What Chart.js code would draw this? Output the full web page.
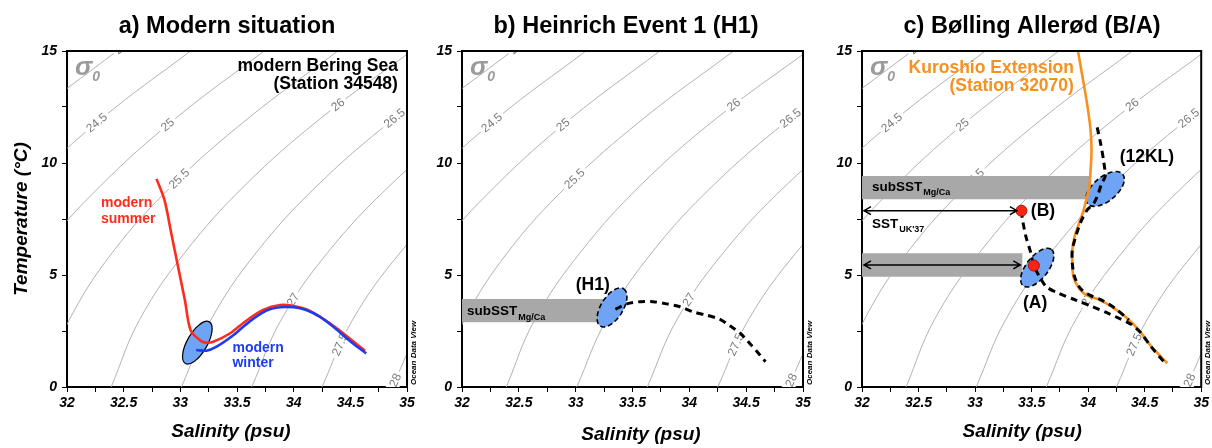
<!DOCTYPE html>
<html>
<head>
<meta charset="utf-8">
<script src="https://cdn.jsdelivr.net/npm/chart.js@4.4.1/dist/chart.umd.min.js"></script>
<style>
  html, body { margin: 0; padding: 0; background: #fff; }
  #wrap { position: relative; width: 1212px; height: 448px; overflow: hidden; }
  canvas { position: absolute; top: 0; }
</style>
</head>
<body>
<div id="wrap">
  <canvas id="panelA" width="420" height="448" style="left:0px"></canvas>
  <canvas id="panelB" width="420" height="448" style="left:400px"></canvas>
  <canvas id="panelC" width="412" height="448" style="left:800px"></canvas>
</div>
<script>
const FONT = '"Liberation Sans", Arial, Helvetica, sans-serif';
Chart.defaults.font.family = FONT;

// axes
const salinityTicks = [32, 32.25, 32.5, 32.75, 33, 33.25, 33.5, 33.75, 34, 34.25, 34.5, 34.75, 35];
const salinityLabels = [32, 32.5, 33, 33.5, 34, 34.5, 35];
const temperatureTicks = [0, 2.5, 5, 7.5, 10, 12.5, 15];
const temperatureLabels = [0, 5, 10, 15];

// sigma-0 isopycnals: salinity of each level at the listed temperatures
const isoTemps = [0, 3, 6, 9, 12, 15];
const isoLevels = ['24', '24.5', '25', '25.5', '26', '26.5', '27', '27.5', '28'];
const isoSalinity = [
  [null, null, null, 31.02, 31.67, 32.44],
  [null, null, 31.14, 31.66, 32.31, 33.09],
  [null, 31.39, 31.77, 32.30, 32.96, 33.74],
  [31.77, 32.02, 32.40, 32.93, 33.60, 34.39],
  [32.39, 32.64, 33.04, 33.57, 34.24, 35.04],
  [33.01, 33.27, 33.67, 34.21, 34.89, 35.68],
  [33.63, 33.89, 34.30, 34.85, 35.53, null],
  [34.25, 34.52, 34.94, 35.49, null, null],
  [34.87, 35.15, 35.57, null, null, null]
];
const isoLabelTemps = [15.15, 11.8, 11.7, 9.3, 12.6, 12.0, 3.9, 1.9, 0.3];

// a) modern Bering Sea, station 34548
const summerSal = [32.79, 32.86, 32.92, 32.98, 33.04, 33.09, 33.17, 33.22, 33.29, 33.44, 33.59, 33.73, 33.88, 34.00, 34.11, 34.23, 34.38, 34.53, 34.63];
const summerTemp = [9.29, 8.35, 6.86, 5.37, 3.88, 2.54, 2.10, 1.98, 2.02, 2.40, 2.99, 3.44, 3.66, 3.62, 3.47, 3.14, 2.62, 2.02, 1.62];
const winterSal = [33.14, 33.23, 33.32, 33.47, 33.61, 33.76, 33.88, 34.00, 34.11, 34.23, 34.35, 34.47, 34.56, 34.64];
const winterTemp = [1.65, 1.62, 1.80, 2.32, 2.92, 3.41, 3.56, 3.56, 3.44, 3.14, 2.69, 2.17, 1.80, 1.50];
const modernCore = [33.15, 1.98];

// b) Heinrich Event 1
const h1Sal = [33.35, 33.45, 33.57, 33.68, 33.80, 33.92, 34.03, 34.15, 34.27, 34.36, 34.45, 34.53, 34.61, 34.67];
const h1Temp = [3.47, 3.71, 3.81, 3.81, 3.71, 3.58, 3.36, 3.21, 3.02, 2.72, 2.39, 1.95, 1.50, 1.13];
const h1Core = [33.32, 3.55];
const h1SubSST = [2.89, 3.93];
const h1SubSSTEnd = 33.26;

// c) Bolling Allerod, Kuroshio Extension station 32070
const kuroSal = [33.91, 33.95, 33.99, 34.02, 34.03, 34.02, 34.01, 33.99, 33.96, 33.92, 33.88, 33.86, 33.86, 33.87, 33.92, 33.98, 34.09, 34.21, 34.33, 34.45, 34.56, 34.70];
const kuroTemp = [15.0, 13.85, 12.66, 11.55, 10.58, 9.54, 8.87, 8.50, 7.90, 7.31, 6.71, 6.12, 5.52, 4.92, 4.41, 4.11, 3.91, 3.58, 3.14, 2.54, 1.80, 1.06];
const baSal = [33.41, 33.42, 33.45, 33.49, 33.51, 33.52, 33.57, 33.63, 33.74, 33.89, 34.04, 34.16, 34.28, 34.38, 34.46, 34.56, 34.67];
const baTemp = [7.87, 7.46, 6.71, 6.04, 5.59, 5.42, 4.92, 4.48, 4.18, 3.88, 3.58, 3.33, 3.05, 2.80, 2.45, 1.78, 1.13];
const kl12Sal = [34.08, 34.11, 34.14, 34.15, 34.12, 34.09, 34.05, 33.99, 33.93, 33.89, 33.86, 33.86, 33.88, 33.93, 34.01, 34.12, 34.24, 34.36];
const kl12Temp = [11.59, 10.88, 9.99, 9.39, 9.10, 8.64, 8.20, 7.90, 7.31, 6.71, 6.12, 5.52, 4.92, 4.41, 4.11, 3.88, 3.51, 2.99];
const ukSal = [33.41, 33.52];
const ukTemp = [7.87, 5.42];
const baCoreA = [33.55, 5.33];
const baCore12KL = [34.15, 8.84];
const baSubSSTUpper = [8.38, 9.42];
const baSubSSTUpperEnd = 34.01;
const baSubSSTLower = [4.92, 5.97];
const baSubSSTLowerEnd = 33.42;
const baArrowTemp = [7.87, 5.45];
const baArrowEnd = [33.37, 33.40];

const RED = '#ff2b1c', BLUE = '#1c3cf2', ORANGE = '#f7901e';
const CORE = '#6fa3f4', BAND = '#a8a8a8', ISO = '#a9a9a9';

const pts = (xs, ys) => xs.map((s, i) => ({ x: s, y: ys[i] }));

function series(label, xs, ys, style) {
  return Object.assign({ label, data: pts(xs, ys), order: 10, tension: 0.3, fill: false, pointRadius: 0 }, style);
}

const dashed = { borderColor: '#000', borderWidth: 3, borderDash: [7, 5] };

function band(label, range, sEnd, after) {
  return [
    { label, data: [{ x: 32, y: range[1] }, { x: sEnd, y: range[1] }], borderWidth: 0, borderColor: 'rgba(0,0,0,0)',
      backgroundColor: BAND, fill: '+1', order: 20, tension: 0, pointRadius: 0, after },
    { label: label + ' (lower)', data: [{ x: 32, y: range[0] }, { x: sEnd, y: range[0] }], borderWidth: 0,
      borderColor: 'rgba(0,0,0,0)', fill: false, order: 20, tension: 0, pointRadius: 0 }
  ];
}

function isopycnals(after) {
  return isoLevels.map((lvl, i) => ({
    label: 'sigma0 ' + lvl,
    data: isoTemps.map((t, j) => (isoSalinity[i][j] == null ? null : { x: isoSalinity[i][j], y: t })).filter(Boolean),
    borderColor: ISO, borderWidth: 0.9, tension: 0.4, fill: false, order: 30, pointRadius: 0,
    isoIndex: i, after: i === 0 ? after : undefined
  }));
}

function bez(p0, c1, c2, p3, u) { const v = 1 - u; return v * v * v * p0 + 3 * v * v * u * c1 + 3 * v * u * u * c2 + u * u * u * p3; }
function dbez(p0, c1, c2, p3, u) { const v = 1 - u; return 3 * v * v * (c1 - p0) + 6 * v * u * (c2 - c1) + 3 * u * u * (p3 - c2); }

// contour labels sit on the drawn curve, with a white gap behind them
function drawIsoLabels(chart) {
  const { ctx, chartArea: a, scales: { y } } = chart;
  ctx.save();
  ctx.beginPath();
  ctx.rect(a.left, a.top, a.right - a.left, a.bottom - a.top);
  ctx.clip();
  ctx.font = '12px ' + FONT;
  ctx.textAlign = 'center';
  ctx.textBaseline = 'middle';
  chart.data.datasets.forEach((ds, di) => {
    if (ds.isoIndex === undefined) return;
    const el = chart.getDatasetMeta(di).data;
    const ty = y.getPixelForValue(isoLabelTemps[ds.isoIndex]);
    let k = 0;
    while (k < el.length - 2 && el[k + 1].y > ty) k++;
    const A = el[k], B = el[k + 1];
    let px, py, ang;
    if (ty < B.y || A.cp2x === undefined) {
      const f = (ty - A.y) / (B.y - A.y);
      px = A.x + (B.x - A.x) * f; py = ty;
      ang = Math.atan2(B.y - A.y, B.x - A.x);
    } else {
      let lo = 0, hi = 1;
      for (let n = 0; n < 30; n++) {
        const m = (lo + hi) / 2;
        if (bez(A.y, A.cp2y, B.cp1y, B.y, m) > ty) lo = m; else hi = m;
      }
      const u = (lo + hi) / 2;
      px = bez(A.x, A.cp2x, B.cp1x, B.x, u);
      py = bez(A.y, A.cp2y, B.cp1y, B.y, u);
      ang = Math.atan2(dbez(A.y, A.cp2y, B.cp1y, B.y, u), dbez(A.x, A.cp2x, B.cp1x, B.x, u));
    }
    const txt = isoLevels[ds.isoIndex];
    ctx.save();
    ctx.translate(px, py);
    ctx.rotate(ang);
    const w = ctx.measureText(txt).width + 6;
    ctx.fillStyle = '#fff';
    ctx.fillRect(-w / 2, -6.5, w, 13);
    ctx.fillStyle = '#7d7d7d';
    ctx.fillText(txt, 0, 0.5);
    ctx.restore();
  });
  ctx.restore();
}

function drawCores(chart, cores) {
  const { ctx, scales: { x, y } } = chart;
  cores.forEach(c => {
    const cx = x.getPixelForValue(c.at[0]), cy = y.getPixelForValue(c.at[1]);
    ctx.save();
    ctx.beginPath();
    ctx.ellipse(cx, cy, c.rx, c.ry, -c.tilt * Math.PI / 180, 0, Math.PI * 2);
    ctx.fillStyle = CORE;
    ctx.fill();
    ctx.strokeStyle = '#000';
    ctx.lineWidth = c.dashed ? 1.6 : 1.2;
    ctx.setLineDash(c.dashed ? [5, 3] : []);
    ctx.stroke();
    ctx.restore();
  });
}

function makeDecor(p) {
  return {
    id: 'tsDecor',
    afterDatasetDraw(chart, args) {
      const tag = chart.data.datasets[args.index].after || '';
      if (tag.includes('labels')) drawIsoLabels(chart);
      if (tag.includes('cores')) drawCores(chart, p.cores);
    },
    afterDraw(chart) {
      const { ctx, chartArea: a, scales: { x, y } } = chart;
      ctx.save();

      // close the frame on top and right
      ctx.strokeStyle = '#000';
      ctx.lineWidth = 2;
      ctx.beginPath();
      ctx.moveTo(a.left - 1, a.top);
      ctx.lineTo(a.right, a.top);
      ctx.lineTo(a.right, a.bottom + 1);
      ctx.stroke();

      // double arrows
      ctx.lineWidth = 1.5;
      (p.arrows || []).forEach(ar => {
        const yy = y.getPixelForValue(ar.t);
        const x0 = x.getPixelForValue(ar.from) + 2, x1 = x.getPixelForValue(ar.to);
        ctx.beginPath();
        ctx.moveTo(x0, yy); ctx.lineTo(x1, yy);
        ctx.moveTo(x0 + 7, yy - 4); ctx.lineTo(x0, yy); ctx.lineTo(x0 + 7, yy + 4);
        ctx.moveTo(x1 - 7, yy - 4); ctx.lineTo(x1, yy); ctx.lineTo(x1 - 7, yy + 4);
        ctx.stroke();
      });

      // sigma-0 tag
      ctx.fillStyle = '#9b9b9b';
      ctx.textAlign = 'left';
      ctx.textBaseline = 'alphabetic';
      ctx.font = 'italic bold 26px ' + FONT;
      ctx.fillText('σ', a.left + 8, a.top + 24);
      const sw = ctx.measureText('σ').width;
      ctx.font = 'italic bold 14px ' + FONT;
      ctx.fillText('0', a.left + 8 + sw, a.top + 30);

      // annotations
      p.notes.forEach(n => {
        const px = x.getPixelForValue(n.at[0]), py = y.getPixelForValue(n.at[1]);
        ctx.font = 'bold ' + n.size + 'px ' + FONT;
        ctx.fillStyle = n.color || '#000';
        ctx.textAlign = n.align || 'left';
        ctx.textBaseline = 'middle';
        ctx.fillText(n.text, px, py);
        if (n.sub) {
          const w = ctx.measureText(n.text).width;
          ctx.font = 'bold 9px ' + FONT;
          ctx.textAlign = 'left';
          ctx.fillText(n.sub, px + w + 1, py + 6);
        }
      });

      // software credit along the right edge
      ctx.save();
      ctx.translate(a.right + 7, a.bottom - 2);
      ctx.rotate(-Math.PI / 2);
      ctx.font = 'italic bold 8px ' + FONT;
      ctx.fillStyle = '#000';
      ctx.textAlign = 'left';
      ctx.textBaseline = 'middle';
      ctx.fillText('Ocean Data View', 0, 0);
      ctx.restore();

      // panel title and salinity axis title
      const mid = (a.left + a.right) / 2;
      ctx.fillStyle = '#000';
      ctx.textAlign = 'center';
      ctx.textBaseline = 'alphabetic';
      ctx.font = 'bold 23.5px ' + FONT;
      ctx.fillText(p.title, mid + p.titleDx, 33);
      ctx.font = 'italic bold 19px ' + FONT;
      ctx.fillText('Salinity (psu)', mid + p.xTitleDx, p.xTitleBase);
      ctx.restore();
    }
  };
}

const tickFont = { size: 14, weight: 'bold', style: 'italic' };

function panelChart(id, yWidth, padRight, datasets, decor, yTitle) {
  return new Chart(document.getElementById(id), {
    type: 'line',
    data: { datasets },
    options: {
      responsive: false,
      animation: false,
      events: [],
      layout: { padding: { top: 51, right: padRight, bottom: 0, left: 0 } },
      elements: { point: { radius: 0 }, line: { capBezierPoints: false } },
      plugins: { legend: { display: false }, tooltip: { enabled: false } },
      scales: {
        x: {
          type: 'linear', min: 32, max: 35,
          afterBuildTicks: s => { s.ticks = salinityTicks.map(v => ({ value: v })); },
          afterFit: s => { s.height = 61; },
          ticks: {
            autoSkip: false, maxRotation: 0, padding: 3, color: '#000', font: tickFont,
            callback: v => (salinityLabels.includes(v) ? String(v) : '')
          },
          grid: { drawOnChartArea: false, tickLength: 5, color: '#000' },
          border: { color: '#000', width: 2 }
        },
        y: {
          type: 'linear', min: 0, max: 15,
          afterBuildTicks: s => { s.ticks = temperatureTicks.map(v => ({ value: v })); },
          afterFit: s => { s.width = yWidth; },
          ticks: {
            autoSkip: false, padding: 5, color: '#000', font: tickFont,
            callback: v => (temperatureLabels.includes(v) ? String(v) : '')
          },
          grid: { drawOnChartArea: false, tickLength: 5, color: '#000' },
          border: { color: '#000', width: 2 },
          title: {
            display: !!yTitle, text: yTitle || '', color: '#000',
            font: { size: 19, weight: 'bold', style: 'italic' },
            padding: { top: 10, bottom: 0 }
          }
        }
      }
    },
    plugins: [decor]
  });
}

// a) Modern situation
panelChart('panelA', 67, 13, [
  series('modern winter', winterSal, winterTemp, { borderColor: BLUE, borderWidth: 2.6 }),
  series('modern summer', summerSal, summerTemp, { borderColor: RED, borderWidth: 2.6 }),
  ...isopycnals('labels cores')
], makeDecor({
  title: 'a) Modern situation', titleDx: -10, xTitleDx: -6, xTitleBase: 437,
  cores: [{ at: modernCore, rx: 24, ry: 10, tilt: 60, dashed: false }],
  notes: [
    { text: 'modern Bering Sea', at: [34.92, 14.33], align: 'right', size: 17.5 },
    { text: '(Station 34548)', at: [34.92, 13.51], align: 'right', size: 17.5 },
    { text: 'modern', at: [32.30, 8.20], size: 14, color: RED },
    { text: 'summer', at: [32.30, 7.50], size: 14, color: RED },
    { text: 'modern', at: [33.46, 1.73], size: 14, color: BLUE },
    { text: 'winter', at: [33.46, 1.08], size: 14, color: BLUE }
  ]
}), 'Temperature (°C)');

// b) Heinrich Event 1 (H1)
panelChart('panelB', 62, 17, [
  series('H1', h1Sal, h1Temp, dashed),
  ...band('subSST Mg/Ca', h1SubSST, h1SubSSTEnd, 'cores'),
  ...isopycnals('labels')
], makeDecor({
  title: 'b) Heinrich Event 1 (H1)', titleDx: -6.5, xTitleDx: 8.5, xTitleBase: 440,
  cores: [{ at: h1Core, rx: 22, ry: 11, tilt: 58, dashed: true }],
  notes: [
    { text: '(H1)', at: [33.15, 4.55], align: 'center', size: 17.5 },
    { text: 'subSST', sub: 'Mg/Ca', at: [32.044, 3.36], size: 13.5 }
  ]
}));

// c) Bolling Allerod (B/A)
panelChart('panelC', 62, 9, [
  { label: "SST UK'37", data: pts(ukSal, ukTemp), showLine: false, order: 0,
    pointRadius: 5.5, pointBackgroundColor: '#ff2412', pointBorderColor: '#a31208', pointBorderWidth: 1 },
  series('B/A', baSal, baTemp, dashed),
  series('12KL', kl12Sal, kl12Temp, dashed),
  series('Kuroshio Extension', kuroSal, kuroTemp, { borderColor: ORANGE, borderWidth: 2.6 }),
  ...band('subSST Mg/Ca 12KL', baSubSSTUpper, baSubSSTUpperEnd, 'cores'),
  ...band('subSST Mg/Ca A', baSubSSTLower, baSubSSTLowerEnd),
  ...isopycnals('labels')
], makeDecor({
  title: 'c) Bølling Allerød (B/A)', titleDx: 0.5, xTitleDx: -9.5, xTitleBase: 437,
  cores: [
    { at: baCoreA, rx: 23, ry: 11, tilt: 52, dashed: true },
    { at: baCore12KL, rx: 23, ry: 12, tilt: 40, dashed: true }
  ],
  arrows: [
    { t: baArrowTemp[0], from: 32, to: baArrowEnd[0] },
    { t: baArrowTemp[1], from: 32, to: baArrowEnd[1] }
  ],
  notes: [
    { text: 'Kuroshio Extension', at: [33.874, 14.25], align: 'right', size: 17.5, color: ORANGE },
    { text: '(Station 32070)', at: [33.874, 13.41], align: 'right', size: 17.5, color: ORANGE },
    { text: 'subSST', sub: 'Mg/Ca', at: [32.088, 8.93], size: 13.5 },
    { text: 'SST', sub: "UK'37", at: [32.088, 7.28], size: 13.5 },
    { text: '(B)', at: [33.493, 7.83], size: 17.5 },
    { text: '(A)', at: [33.531, 3.74], align: 'center', size: 17.5 },
    { text: '(12KL)', at: [34.279, 10.25], size: 17.5 }
  ]
}));
</script>
</body>
</html>
